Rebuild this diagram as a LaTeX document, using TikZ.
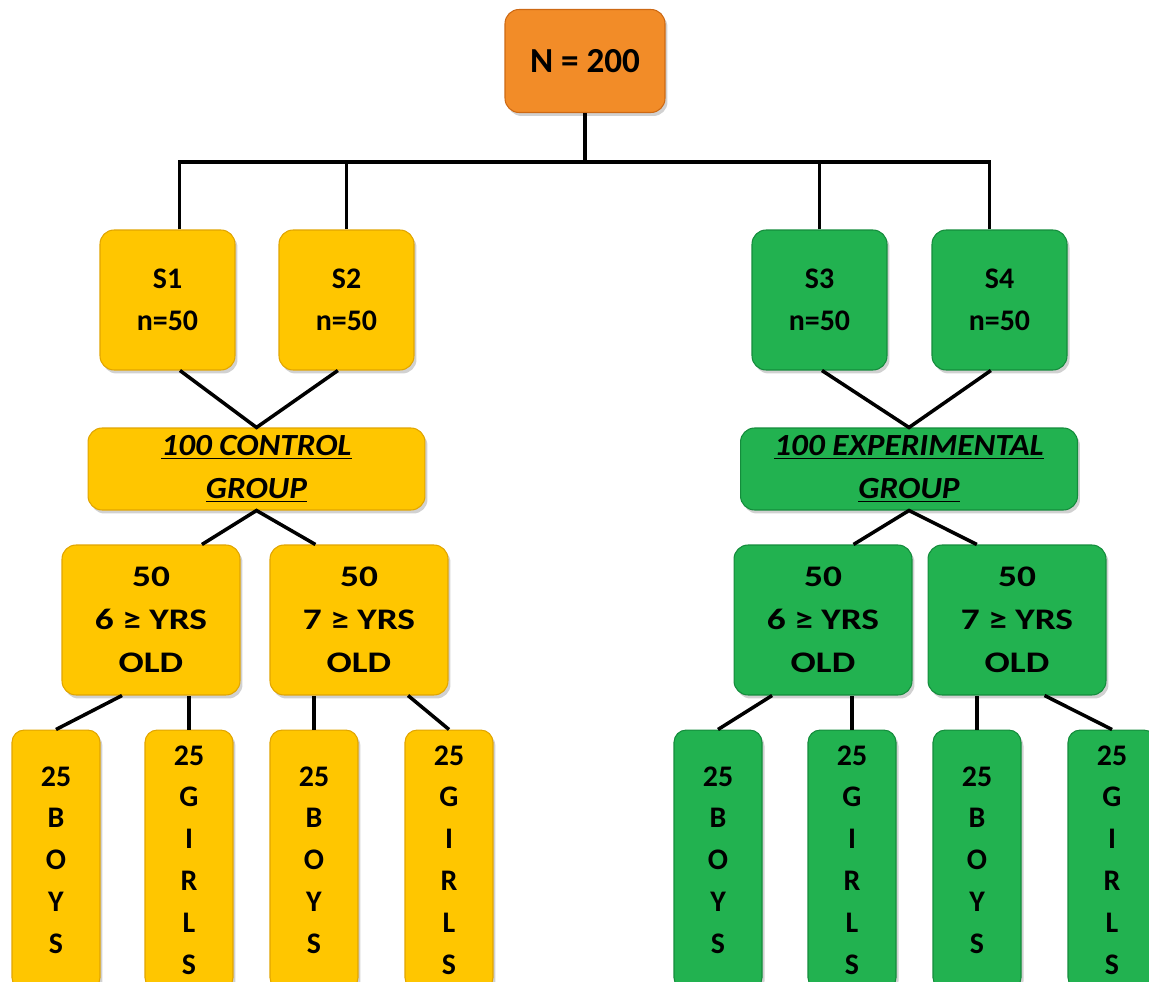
\documentclass[tikz,border=0pt]{standalone}
\usepackage{fontspec}
\setmainfont{Carlito}
\newfontfamily\agefont[FakeStretch=1.25]{Carlito}
\newfontfamily\groupfont[FakeStretch=1.08]{Carlito}
\usepackage{xcolor}
\usepackage{tikz}
\usetikzlibrary{shadows, calc}

\definecolor{rootOrange}{RGB}{242,140,40}
\definecolor{rootEdge}{RGB}{205,105,20}
\definecolor{ctrlYellow}{RGB}{255,198,0}
\definecolor{ctrlEdge}{RGB}{225,165,0}
\definecolor{expGreen}{RGB}{34,178,80}
\definecolor{expEdge}{RGB}{20,140,60}

\begin{document}
\begin{tikzpicture}[
    x=0.02cm, y=-0.02cm,
    box/.style={rectangle, rounded corners=8pt, line width=0.6pt,
      inner sep=0pt, align=center,
      font=\fontsize{17}{23.8}\selectfont\bfseries,
      drop shadow={shadow xshift=0.05cm, shadow yshift=-0.07cm,
        opacity=0.3, fill=black!60}},
    root/.style={box, fill=rootOrange, draw=rootEdge,
      minimum width=3.2cm, minimum height=2.06cm,
      font=\fontsize{20}{24}\selectfont\bfseries},
    ctrl/.style={box, fill=ctrlYellow, draw=ctrlEdge},
    exper/.style={box, fill=expGreen, draw=expEdge},
    school/.style={minimum width=2.7cm, minimum height=2.8cm},
    group/.style={minimum width=6.74cm, minimum height=1.64cm,
      font=\groupfont\fontsize{17.5}{24.5}\selectfont\bfseries\itshape},
    age/.style={minimum width=3.56cm, minimum height=3.0cm,
      font=\agefont\fontsize{17}{24.5}\selectfont\bfseries},
    kids/.style={minimum width=1.76cm, minimum height=5.2cm,
      rounded corners=7pt},
    link/.style={line width=2pt, black},
]

\useasboundingbox (0,0) rectangle (1149,982);

% ── Root ──
\node[root] (n200) at (585,61) {N = 200};

% ── Schools ──
\node[ctrl, school] (s1) at (167.5,300) {S1\\n=50};
\node[ctrl, school] (s2) at (346.5,300) {S2\\n=50};
\node[exper, school] (s3) at (819.5,300) {S3\\n=50};
\node[exper, school] (s4) at (999.5,300) {S4\\n=50};

% ── Groups ──
\node[ctrl, group] (cgroup) at (256.5,469)
  {\underline{100 CONTROL}\\\underline{GROUP}};
\node[exper, group] (egroup) at (909,469)
  {\underline{100 EXPERIMENTAL}\\\underline{GROUP}};

% ── Age boxes ──
\node[ctrl, age] (c6) at (151,620) {50\\6 ≥ YRS\\OLD};
\node[ctrl, age] (c7) at (359,620) {50\\7 ≥ YRS\\OLD};
\node[exper, age] (e6) at (823,620) {50\\6 ≥ YRS\\OLD};
\node[exper, age] (e7) at (1017,620) {50\\7 ≥ YRS\\OLD};

% ── Boys / girls ──
\node[ctrl, kids] (cb6) at (56,860) {25\\B\\O\\Y\\S};
\node[ctrl, kids] (cg6) at (189,860) {25\\G\\I\\R\\L\\S};
\node[ctrl, kids] (cb7) at (314,860) {25\\B\\O\\Y\\S};
\node[ctrl, kids] (cg7) at (449,860) {25\\G\\I\\R\\L\\S};
\node[exper, kids] (eb6) at (718,860) {25\\B\\O\\Y\\S};
\node[exper, kids] (eg6) at (852,860) {25\\G\\I\\R\\L\\S};
\node[exper, kids] (eb7) at (977,860) {25\\B\\O\\Y\\S};
\node[exper, kids] (eg7) at (1112,860) {25\\G\\I\\R\\L\\S};

% ── Bus from root ──
\coordinate (bus) at (585,162);
\draw[link] (n200.south) -- (bus);
\draw[link] ([xshift=0.24cm]s1.north) |- (bus);
\draw[link] (s2.north) |- (bus);
\draw[link] (s3.north) |- (bus);
\draw[link] ([xshift=-0.2cm]s4.north) |- (bus);

% ── Schools into groups ──
\draw[link] (s1.-80) -- (cgroup.north) -- (s2.-97);
\draw[link] (s3.-88) -- (egroup.north) -- (s4.-97);

% ── Groups into age boxes ──
\draw[link] (c6.56) -- (cgroup.south) -- (c7.120);
\draw[link] (e6.68) -- (egroup.south) -- (e7.118);

% ── Age boxes into boys / girls ──
\draw[link] (c6.-111) -- (cb6.north);
\draw[link] (cg6.north) -- (cg6.north |- c6.south);
\draw[link] (cb7.north) -- (cb7.north |- c7.south);
\draw[link] (c7.-57) -- (cg7.north);
\draw[link] (e6.-124) -- (eb6.north);
\draw[link] (eg6.north) -- (eg6.north |- e6.south);
\draw[link] (eb7.north) -- (eb7.north |- e7.south);
\draw[link] (e7.-70) -- (eg7.north);

\end{tikzpicture}
\end{document}
